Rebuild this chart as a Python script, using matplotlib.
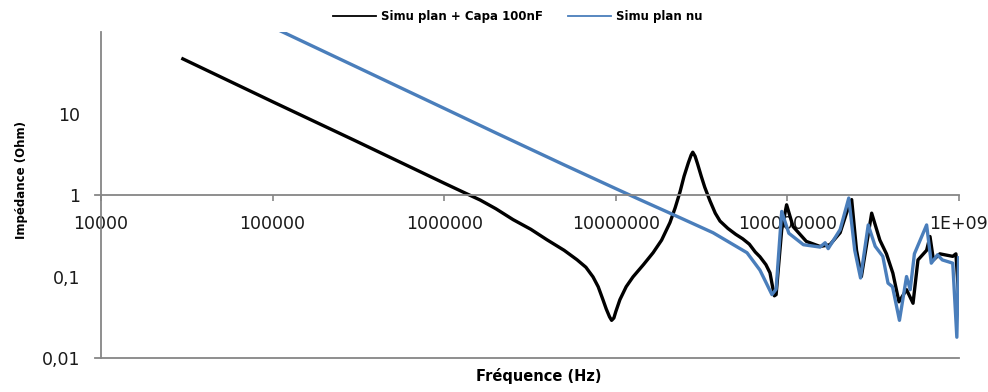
import matplotlib

matplotlib.use("Agg")
import matplotlib.pyplot as plt
from matplotlib.ticker import FixedLocator, FixedFormatter, NullLocator

# impedance curves (Hz, Ohm)
freq_capa = [3e4, 1e5, 3e5, 1e6, 1.3e6, 1.62e6, 2.0e6, 2.52e6, 3.2e6, 3.97e6, 5.0e6, 5.94e6, 6.7e6, 7.37e6, 7.9e6,
             8.42e6, 8.8e6, 9.2e6, 9.46e6, 9.75e6, 1.0e7, 1.057e7, 1.15e7, 1.26e7, 1.45e7, 1.65e7, 1.85e7, 2.07e7,
             2.22e7, 2.37e7, 2.5e7, 2.65e7, 2.75e7, 2.81e7, 2.9e7, 3.0e7, 3.15e7, 3.3e7, 3.54e7, 3.8e7, 4.05e7,
             4.5e7, 5.0e7, 5.5e7, 6.0e7, 6.5e7, 6.92e7, 7.5e7, 7.92e7, 8.2e7, 8.4e7, 8.6e7, 9.27e7, 9.9e7, 1.08e8,
             1.29e8, 1.55e8, 1.77e8, 2.03e8, 2.21e8, 2.37e8, 2.53e8, 2.7e8, 3.1e8, 3.46e8, 3.78e8, 4.12e8, 4.47e8,
             4.95e8, 5.4e8, 5.77e8, 6.48e8, 6.78e8, 7.1e8, 7.74e8, 9.2e8, 9.6e8, 1.0e9]
z_capa = [47, 14, 4.7, 1.4, 1.08, 0.87, 0.68, 0.5, 0.38, 0.283, 0.21, 0.161, 0.13, 0.099, 0.075,
          0.052, 0.04, 0.032, 0.029, 0.031, 0.037, 0.052, 0.075, 0.099, 0.14, 0.196, 0.28, 0.46,
          0.7, 1.1, 1.7, 2.5, 3.1, 3.36, 3.0, 2.4, 1.7, 1.25, 0.85, 0.6, 0.48,
          0.39, 0.33, 0.29, 0.25, 0.2, 0.175, 0.14, 0.111, 0.075, 0.058, 0.06, 0.376, 0.76, 0.41,
          0.27, 0.234, 0.246, 0.345, 0.6, 0.88, 0.21, 0.1, 0.6, 0.28, 0.19, 0.11, 0.049,
          0.069, 0.047, 0.16, 0.21, 0.31, 0.16, 0.19, 0.177, 0.19, 0.052]

freq_nu = [1e5, 3e5, 1e6, 2e6, 5e6, 1e7, 1.38e7, 2.07e7, 3.69e7, 5.82e7, 6.92e7, 7.5e7, 8.13e7, 8.6e7, 9.27e7,
           1.02e8, 1.24e8, 1.55e8, 1.66e8, 1.73e8, 2.03e8, 2.28e8, 2.47e8, 2.67e8, 2.96e8, 3.25e8, 3.6e8, 3.86e8,
           4.1e8, 4.5e8, 4.95e8, 5.2e8, 5.5e8, 6.48e8, 6.9e8, 7.5e8, 8.0e8, 9.2e8, 9.72e8, 9.95e8]
z_nu = [115, 38.5, 11.6, 5.8, 2.35, 1.2, 0.88, 0.6, 0.345, 0.196, 0.12, 0.085, 0.06, 0.07, 0.63,
        0.34, 0.246, 0.23, 0.26, 0.22, 0.377, 0.92, 0.21, 0.096, 0.43, 0.235, 0.177, 0.083,
        0.075, 0.029, 0.1, 0.069, 0.19, 0.43, 0.146, 0.185, 0.16, 0.146, 0.018, 0.17]

labels = ["Simu plan + Capa 100nF", "Simu plan nu"]
colors = ["black", "#4a7ebb"]

x_ticks = [1e4, 1e5, 1e6, 1e7, 1e8, 1e9]
x_ticklabels = ["10000", "100000", "1000000", "10000000", "100000000", "1E+09"]
y_ticks = [0.01, 0.1, 1, 10]
y_ticklabels = ["0,01", "0,1", "1", "10"]

AXIS_GRAY = "#868686"

fig = plt.figure(figsize=(9.88, 3.92), dpi=100)
ax = fig.add_axes([0.1022, 0.0867, 0.8684, 0.8313])

ax.plot(freq_capa, z_capa, color=colors[0], lw=2.4, label=labels[0], solid_joinstyle="round")
ax.plot(freq_nu, z_nu, color=colors[1], lw=2.4, label=labels[1], solid_joinstyle="round")

ax.set_xscale("log")
ax.set_yscale("log")
ax.set_xlim(1e4, 1e9)
ax.set_ylim(0.01, 100)

# horizontal axis crosses at 1, like the Excel original
ax.spines["bottom"].set_position(("data", 1))
ax.spines["bottom"].set_bounds(9230, 1e9)
ax.spines["top"].set_visible(False)
ax.spines["right"].set_visible(False)
for s in ["bottom", "left"]:
    ax.spines[s].set_color(AXIS_GRAY)
    ax.spines[s].set_linewidth(1.3)
ax.axhline(0.01, xmin=-0.007, xmax=1, color=AXIS_GRAY, lw=1.3, clip_on=False)

ax.xaxis.set_major_locator(FixedLocator(x_ticks))
ax.xaxis.set_major_formatter(FixedFormatter(x_ticklabels))
ax.xaxis.set_minor_locator(NullLocator())
ax.yaxis.set_major_locator(FixedLocator(y_ticks))
ax.yaxis.set_major_formatter(FixedFormatter(y_ticklabels))
ax.yaxis.set_minor_locator(NullLocator())
ax.tick_params(axis="x", direction="out", length=4, width=1.2, color=AXIS_GRAY, pad=10, labelsize=12.5, labelcolor="#1a1a1a")
ax.tick_params(axis="y", length=0, pad=15, labelsize=12.5, labelcolor="#1a1a1a")

fig.text(0.545, 0.041, "Fréquence (Hz)", ha="center", va="center", fontsize=10.5, fontweight="bold")
fig.text(0.022, 0.54, "Impédance (Ohm)", ha="center", va="center", rotation=90, fontsize=8.5, fontweight="bold")

leg = fig.legend(loc="center", bbox_to_anchor=(0.524, 0.958), ncol=2, frameon=False,
                 prop={"size": 8.5, "weight": "bold"}, handlelength=3.6, handletextpad=0.4, columnspacing=2.2)
for line in leg.get_lines():
    line.set_linewidth(1.3)

fig.savefig("out.png", dpi=100)
